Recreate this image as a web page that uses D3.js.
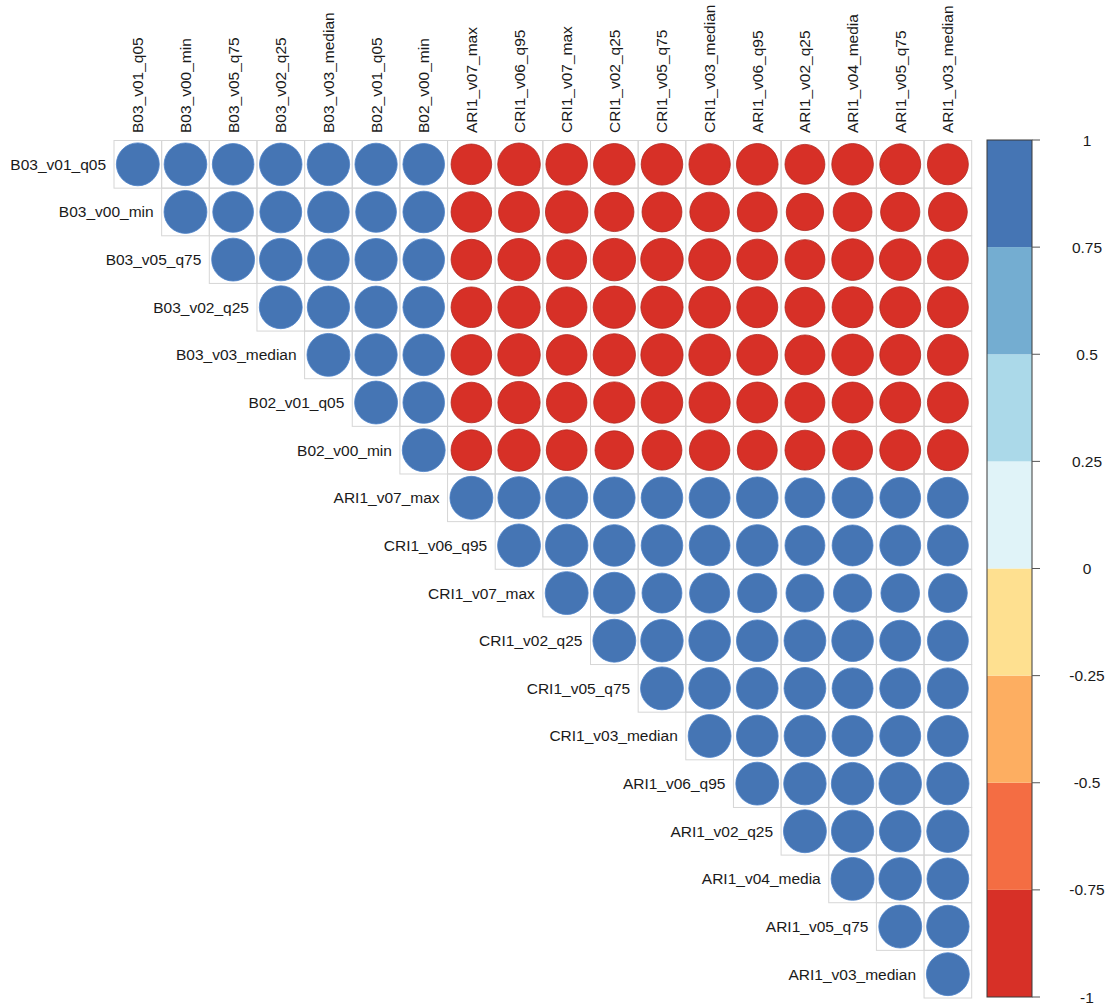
<!DOCTYPE html>
<html>
<head>
<meta charset="utf-8">
<script src="https://cdn.jsdelivr.net/npm/d3@7"></script>
<style>
  html, body { margin: 0; padding: 0; background: #fff; }
  svg { display: block; }
  text { font-family: "Liberation Sans", Arial, sans-serif; fill: #1a1a1a; }
</style>
</head>
<body>
<svg id="chart" width="1107" height="1005"></svg>
<script>
// Variable names (rows and columns share the same order)
const variables = [
  "B03_v01_q05", "B03_v00_min", "B03_v05_q75", "B03_v02_q25", "B03_v03_median",
  "B02_v01_q05", "B02_v00_min", "ARI1_v07_max", "CRI1_v06_q95", "CRI1_v07_max",
  "CRI1_v02_q25", "CRI1_v05_q75", "CRI1_v03_median", "ARI1_v06_q95", "ARI1_v02_q25",
  "ARI1_v04_media", "ARI1_v05_q75", "ARI1_v03_median"
];

// Upper-triangle correlations: row i lists r(i, j) for j = i+1 .. 17
const upperRows = [
  [0.99, 0.94, 0.98, 0.98, 0.97, 0.94, -0.895, -0.985, -0.94, -0.94, -0.94, -0.93, -0.94, -0.865, -0.94, -0.91, -0.91],
  [0.90, 0.95, 0.94, 0.90, 0.94, -0.895, -0.91, -0.98, -0.836, -0.865, -0.85, -0.865, -0.755, -0.82, -0.836, -0.82],
  [0.98, 0.94, 0.97, 0.94, -0.895, -0.97, -0.865, -0.98, -0.98, -0.95, -0.91, -0.865, -0.94, -0.94, -0.91],
  [0.97, 0.97, 0.94, -0.895, -0.97, -0.895, -0.97, -0.97, -0.94, -0.91, -0.865, -0.91, -0.91, -0.91],
  [0.97, 0.94, -0.895, -0.98, -0.895, -0.97, -0.97, -0.94, -0.91, -0.865, -0.94, -0.91, -0.91],
  [0.94, -0.895, -0.97, -0.89, -0.925, -0.94, -0.92, -0.91, -0.865, -0.91, -0.91, -0.91],
  [-0.895, -0.97, -0.90, -0.81, -0.865, -0.89, -0.865, -0.865, -0.865, -0.91, -0.91],
  [0.97, 0.97, 0.94, 0.94, 0.91, 0.94, 0.865, 0.91, 0.90, 0.91],
  [0.98, 0.94, 0.94, 0.90, 0.94, 0.865, 0.91, 0.91, 0.91],
  [0.94, 0.865, 0.87, 0.836, 0.78, 0.795, 0.81, 0.82],
  [0.98, 0.94, 0.94, 0.95, 0.94, 0.91, 0.91],
  [0.94, 0.94, 0.95, 0.91, 0.91, 0.91],
  [0.94, 0.94, 0.91, 0.91, 0.91],
  [0.98, 0.98, 0.98, 0.97],
  [0.97, 0.94, 0.97],
  [0.98, 0.95],
  [0.98],
  []
];

// Colour legend bins (RdYlBu, 8 classes) and tick labels
const legendColors = ["#d73027", "#f46d43", "#fdae61", "#fee090", "#e0f3f8", "#abd9e9", "#74add1", "#4575b4"];
const legendTicks = [-1, -0.75, -0.5, -0.25, 0, 0.25, 0.5, 0.75, 1];
const legendTickLabels = ["-1", "-0.75", "-0.5", "-0.25", "0", "0.25", "0.5", "0.75", "1"];

// Flatten into cells (diagonal included)
const cells = [];
variables.forEach((rowName, i) => {
  cells.push({ row: rowName, col: rowName, r: 1 });
  upperRows[i].forEach((v, k) => {
    cells.push({ row: rowName, col: variables[i + 1 + k], r: v });
  });
});

const svg = d3.select("#chart");

const x = d3.scaleBand().domain(variables).range([114, 971.7]);
const y = d3.scaleBand().domain(variables).range([140.5, 998]);
const bw = x.bandwidth();

const color = d3.scaleQuantize().domain([-1, 1]).range(legendColors);
// circle area proportional to |r|
const radius = v => 0.9 * Math.sqrt(Math.abs(v)) / 2 * bw;

// Cell outlines
svg.append("g").selectAll("rect").data(cells).join("rect")
  .attr("x", d => x(d.col))
  .attr("y", d => y(d.row))
  .attr("width", bw)
  .attr("height", bw)
  .attr("fill", "none")
  .attr("stroke", "#d6d6d6")
  .attr("stroke-width", 1);

// Circles
svg.append("g").selectAll("circle").data(cells).join("circle")
  .attr("cx", d => x(d.col) + bw / 2)
  .attr("cy", d => y(d.row) + bw / 2)
  .attr("r", d => radius(d.r))
  .attr("fill", d => color(d.r))
  .attr("stroke", d => d.r < 0 ? d3.color(color(d.r)).darker(0.6) : d3.color(color(d.r)).brighter(0.3))
  .attr("stroke-width", 0.8);

// Row labels, right-aligned next to the diagonal cell
svg.append("g").selectAll("text").data(variables).join("text")
  .attr("x", d => x(d) - 8)
  .attr("y", d => y(d) + bw / 2)
  .attr("text-anchor", "end")
  .attr("dominant-baseline", "central")
  .style("font-size", "15.5px")
  .text(d => d);

// Column labels, vertical above the grid
svg.append("g").selectAll("text").data(variables).join("text")
  .attr("transform", d => `translate(${x(d) + bw / 2},${133}) rotate(-90)`)
  .attr("text-anchor", "start")
  .attr("dominant-baseline", "central")
  .style("font-size", "15.5px")
  .text(d => d);

// Colour legend
const ly = d3.scaleLinear().domain([-1, 1]).range([997, 140]);
const lx0 = 987, lx1 = 1032;
const legend = svg.append("g");
legend.selectAll("rect.bin").data(legendColors).join("rect")
  .attr("class", "bin")
  .attr("x", lx0)
  .attr("width", lx1 - lx0)
  .attr("y", (c, i) => ly(-1 + (i + 1) * 0.25))
  .attr("height", (c, i) => ly(-1 + i * 0.25) - ly(-1 + (i + 1) * 0.25))
  .attr("fill", c => c);
legend.append("rect")
  .attr("x", lx0).attr("y", ly(1))
  .attr("width", lx1 - lx0).attr("height", ly(-1) - ly(1))
  .attr("fill", "none").attr("stroke", "#3a3a3a").attr("stroke-width", 1);
legend.selectAll("line.tick").data(legendTicks).join("line")
  .attr("class", "tick")
  .attr("x1", lx1).attr("x2", lx1 + 8)
  .attr("y1", d => ly(d)).attr("y2", d => ly(d))
  .attr("stroke", "#555").attr("stroke-width", 1);
legend.selectAll("text").data(legendTicks).join("text")
  .attr("x", 1087)
  .attr("y", d => ly(d))
  .attr("text-anchor", "middle")
  .attr("dominant-baseline", "central")
  .style("font-size", "15.5px")
  .text((d, i) => legendTickLabels[i]);
</script>
</body>
</html>
